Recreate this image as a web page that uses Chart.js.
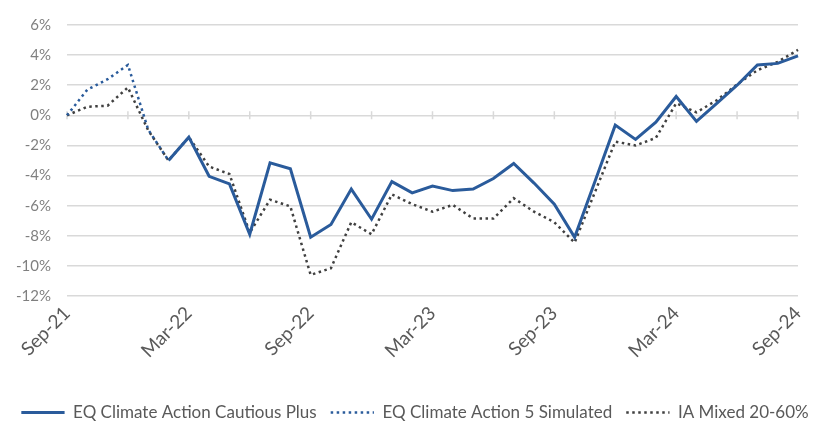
<!DOCTYPE html>
<html>
<head>
<meta charset="utf-8">
<script src="https://cdn.jsdelivr.net/npm/chart.js@4"></script>
<style>
  html, body { margin: 0; padding: 0; background: #fff; }
  #wrap { width: 830px; height: 421px; position: relative; }
</style>
</head>
<body>
<div id="wrap"><canvas id="perfChart"></canvas></div>
<script>
// Monthly points, Sep-21 to Sep-24
const months = [
    'Sep-21', 'Oct-21', 'Nov-21', 'Dec-21', 'Jan-22', 'Feb-22', 'Mar-22', 'Apr-22', 'May-22', 'Jun-22',
    'Jul-22', 'Aug-22', 'Sep-22', 'Oct-22', 'Nov-22', 'Dec-22', 'Jan-23', 'Feb-23', 'Mar-23', 'Apr-23',
    'May-23', 'Jun-23', 'Jul-23', 'Aug-23', 'Sep-23', 'Oct-23', 'Nov-23', 'Dec-23', 'Jan-24', 'Feb-24',
    'Mar-24', 'Apr-24', 'May-24', 'Jun-24', 'Jul-24', 'Aug-24', 'Sep-24'
];

// Cumulative return (%)
const cautiousPlus = [
    null, null, null, null, null, -3.0, -1.45, -4.05, -4.55, -7.9,
    -3.15, -3.55, -8.1, -7.25, -4.9, -6.9, -4.4, -5.15, -4.7, -5.0,
    -4.9, -4.2, -3.2, -4.5, -5.9, -8.1, -4.4, -0.65, -1.6, -0.45,
    1.25, -0.4, 0.8, 2.0, 3.35, 3.45, 3.95
];
const simulated = [
    0, 1.7, 2.4, 3.35, -0.95, -3.0, null, null, null, null,
    null, null, null, null, null, null, null, null, null, null,
    null, null, null, null, null, null, null, null, null, null,
    null, null, null, null, null, null, null
];
const iaMixed = [
    0, 0.57, 0.64, 1.85, -1.0, -3.0, -1.45, -3.4, -3.9, -7.8,
    -5.6, -6.05, -10.6, -10.15, -7.1, -7.9, -5.25, -5.9, -6.4, -5.95,
    -6.85, -6.85, -5.5, -6.4, -7.1, -8.45, -5.1, -1.75, -2.0, -1.5,
    0.8, 0.2, 1.0, 2.05, 3.0, 3.55, 4.35
];

const blue = '#2a5b9b';
const dark = '#404040';
const grid = '#d9d9d9';
const dots = [2.5, 3.5];
const fontFamily = 'Lato, "Liberation Sans", sans-serif';

// small tick marks across the zero line every 3 months
const zeroTicks = {
    id: 'zeroTicks',
    beforeDatasetsDraw(chart) {
        const { ctx, scales: { x, y } } = chart;
        const y0 = y.getPixelForValue(0);
        ctx.save();
        ctx.strokeStyle = grid;
        ctx.lineWidth = 1.5;
        ctx.beginPath();
        for (let i = 0; i < months.length; i += 3) {
            const px = x.getPixelForValue(i);
            ctx.moveTo(px, y0 - 4);
            ctx.lineTo(px, y0 + 4);
        }
        ctx.stroke();
        ctx.restore();
    }
};

const ctx = document.getElementById('perfChart').getContext('2d');
new Chart(ctx, {
    type: 'line',
    data: {
        labels: months,
        datasets: [
            {
                label: 'EQ Climate Action Cautious Plus',
                data: cautiousPlus,
                borderColor: blue,
                backgroundColor: blue,
                borderWidth: 3,
                pointRadius: 0,
                tension: 0,
                order: 0
            },
            {
                label: 'EQ Climate Action 5 Simulated',
                data: simulated,
                borderColor: blue,
                backgroundColor: blue,
                borderWidth: 2.5,
                borderDash: dots,
                pointRadius: 0,
                tension: 0,
                order: 1
            },
            {
                label: 'IA Mixed 20-60%',
                data: iaMixed,
                borderColor: dark,
                backgroundColor: dark,
                borderWidth: 2.5,
                borderDash: dots,
                pointRadius: 0,
                tension: 0,
                order: 2
            }
        ]
    },
    plugins: [zeroTicks],
    options: {
        responsive: true,
        maintainAspectRatio: false,
        animation: false,
        layout: { padding: { top: 18, right: 0, left: 0, bottom: -10 } },
        scales: {
            x: {
                offset: false,
                grid: { display: false, drawTicks: false },
                border: { display: false },
                afterFit: scale => { scale.height = 94; },
                ticks: {
                    autoSkip: false,
                    maxRotation: 45,
                    minRotation: 45,
                    padding: 6,
                    color: '#595959',
                    font: { family: fontFamily, size: 19 },
                    callback: (val, i) => (i % 6 === 0 ? months[i] : '')
                }
            },
            y: {
                min: -12,
                max: 6,
                grid: { color: grid, lineWidth: 1.5, drawTicks: false },
                border: { display: false },
                ticks: {
                    stepSize: 2,
                    padding: 16,
                    color: '#7f7f7f',
                    font: { family: fontFamily, size: 15 },
                    callback: v => v + '%'
                }
            },
            // empty right-hand axis, only reserves the right margin
            yRight: {
                position: 'right',
                grid: { display: false, drawTicks: false },
                border: { display: false },
                ticks: { display: false },
                afterFit: scale => { scale.width = 32; }
            }
        },
        plugins: {
            legend: {
                position: 'bottom',
                labels: {
                    boxWidth: 43.25,
                    boxHeight: 0,
                    padding: 14,
                    color: '#595959',
                    font: { family: fontFamily, size: 17 }
                }
            },
            tooltip: { enabled: false }
        }
    }
});
</script>
</body>
</html>
